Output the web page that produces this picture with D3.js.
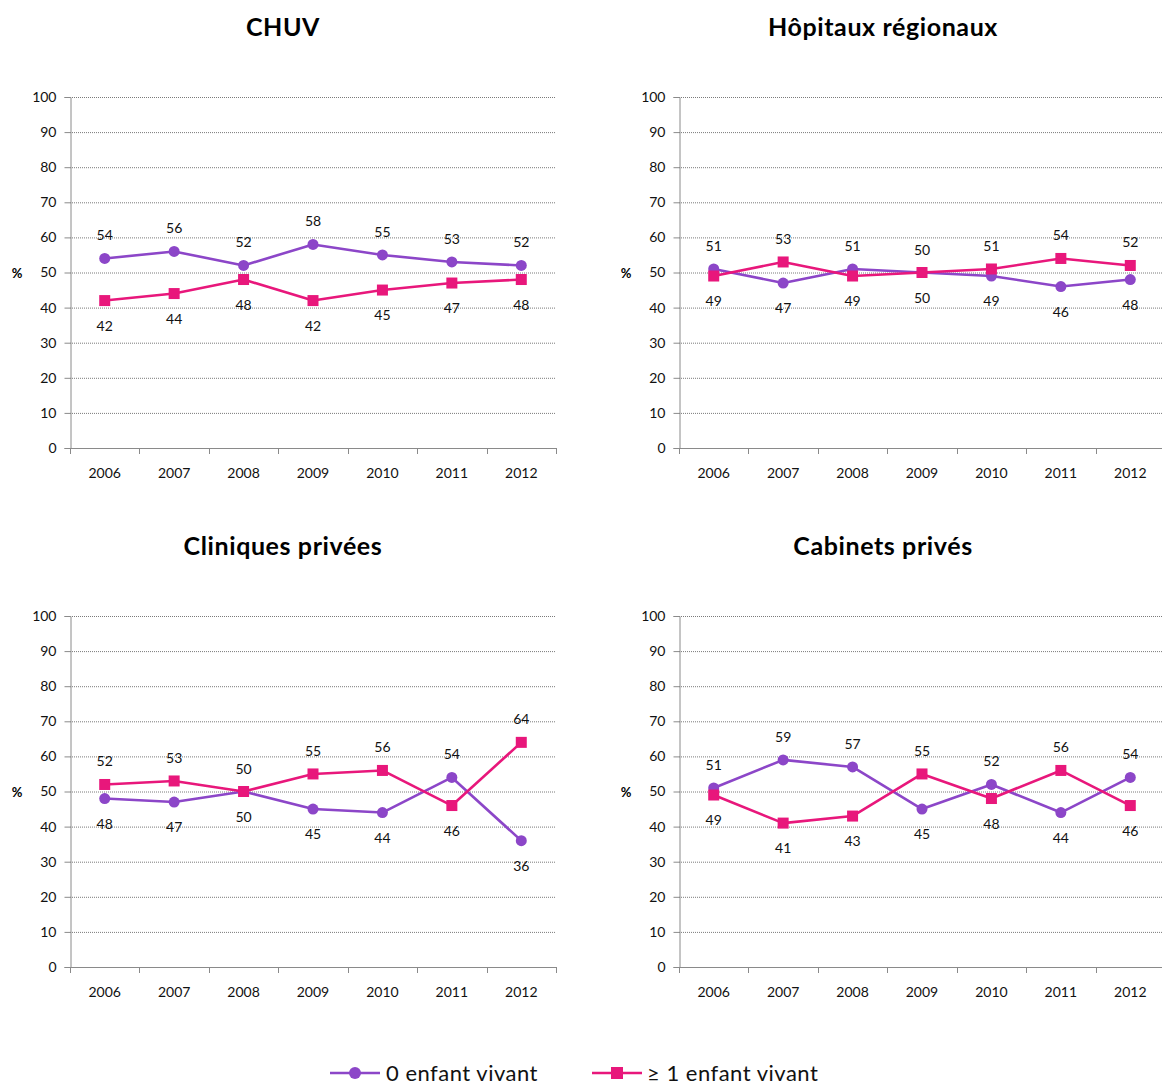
<!DOCTYPE html>
<html>
<head>
<meta charset="utf-8">
<script src="https://cdn.jsdelivr.net/npm/d3@7"></script>
<style>
  html, body { margin: 0; padding: 0; background: #fff; }
  svg { display: block; font-family: Lato, "Open Sans", sans-serif; }
</style>
</head>
<body>
<svg id="chart" width="1162" height="1086"></svg>
<script>
// Years on the x axis
const years = ["2006", "2007", "2008", "2009", "2010", "2011", "2012"];
const yTicks = [0, 10, 20, 30, 40, 50, 60, 70, 80, 90, 100];

// Panel titles
const titles = ["CHUV", "Hôpitaux régionaux", "Cliniques privées", "Cabinets privés"];

// Series names
const seriesNames = ["0 enfant vivant", "\u2265 1 enfant vivant"];

// Share (%) of women with no living child, by setting
const chuvNone      = [54, 56, 52, 58, 55, 53, 52];
const hopitauxNone  = [51, 47, 51, 50, 49, 46, 48];
const cliniquesNone = [48, 47, 50, 45, 44, 54, 36];
const cabinetsNone  = [51, 59, 57, 45, 52, 44, 54];

// Share (%) of women with at least one living child, by setting
const chuvSome      = [42, 44, 48, 42, 45, 47, 48];
const hopitauxSome  = [49, 53, 49, 50, 51, 54, 52];
const cliniquesSome = [52, 53, 50, 55, 56, 46, 64];
const cabinetsSome  = [49, 41, 43, 55, 48, 56, 46];

const noneSeries = [chuvNone, hopitauxNone, cliniquesNone, cabinetsNone];
const someSeries = [chuvSome, hopitauxSome, cliniquesSome, cabinetsSome];

const colors = ["#8c46c8", "#e8177b"];
const axisColor = "#8a8a8a";

const svg = d3.select("#chart");

// Panel origins (left edge of plot area, top of plot area) and title centres
const origins = [
  { x: 70,  y: 97,  tx: 283 },
  { x: 679, y: 97,  tx: 883 },
  { x: 70,  y: 616, tx: 283 },
  { x: 679, y: 616, tx: 883 }
];
const plotW = 486, plotH = 351;

const x = d3.scaleBand().domain(years).range([0, plotW]).padding(0);
const y = d3.scaleLinear().domain([0, 100]).range([plotH, 0]);

titles.forEach((title, p) => {
  const o = origins[p];
  const g = svg.append("g").attr("transform", `translate(${o.x},${o.y})`);

  // Title
  svg.append("text")
    .attr("x", o.tx)
    .attr("y", o.y - 61)
    .attr("text-anchor", "middle")
    .attr("font-size", 25)
    .attr("font-weight", "bold")
    .attr("letter-spacing", 0.6)
    .attr("fill", "#000")
    .text(title);

  // "%" axis title
  g.append("text")
    .attr("x", -53)
    .attr("y", y(50) + 5)
    .attr("text-anchor", "middle")
    .attr("font-size", 13)
    .attr("font-weight", "bold")
    .attr("fill", "#000")
    .text("%");

  // Dotted horizontal gridlines
  g.append("g").selectAll("line")
    .data(yTicks.filter(t => t > 0))
    .join("line")
    .attr("x1", 0).attr("x2", plotW)
    .attr("y1", d => y(d) + 0.5).attr("y2", d => y(d) + 0.5)
    .attr("stroke", "#7a7a7a")
    .attr("stroke-width", 1)
    .attr("stroke-dasharray", "1,1");

  // Y axis
  const yAxis = g.append("g")
    .attr("transform", "translate(0.5,0)")
    .call(d3.axisLeft(y).tickValues(yTicks).tickSize(6).tickPadding(8));
  yAxis.select(".domain").attr("stroke", axisColor);
  yAxis.selectAll(".tick line").attr("stroke", axisColor);
  yAxis.selectAll(".tick text")
    .attr("font-size", 14).attr("fill", "#111")
    .attr("font-family", "Lato, sans-serif");

  // X axis: baseline with ticks at category boundaries
  const edges = years.map(d => x(d)).concat([plotW]);
  g.append("line")
    .attr("x1", 0).attr("x2", plotW)
    .attr("y1", plotH + 0.5).attr("y2", plotH + 0.5)
    .attr("stroke", axisColor);
  g.append("g").selectAll("line")
    .data(edges)
    .join("line")
    .attr("x1", d => Math.round(d) + 0.5).attr("x2", d => Math.round(d) + 0.5)
    .attr("y1", plotH).attr("y2", plotH + 6)
    .attr("stroke", axisColor);
  g.append("g").selectAll("text")
    .data(years)
    .join("text")
    .attr("x", d => x(d) + x.bandwidth() / 2)
    .attr("y", plotH + 30)
    .attr("text-anchor", "middle")
    .attr("font-size", 14)
    .attr("fill", "#111")
    .text(d => d);

  const series = [noneSeries[p], someSeries[p]];
  const cx = i => x(years[i]) + x.bandwidth() / 2;

  const line = d3.line()
    .x((d, i) => cx(i))
    .y(d => y(d));

  series.forEach((vals, s) => {
    g.append("path")
      .datum(vals)
      .attr("fill", "none")
      .attr("stroke", colors[s])
      .attr("stroke-width", 2.6)
      .attr("stroke-linejoin", "round")
      .attr("d", line);

    if (s === 0) {
      g.append("g").selectAll("circle")
        .data(vals)
        .join("circle")
        .attr("cx", (d, i) => cx(i))
        .attr("cy", d => y(d))
        .attr("r", 5.5)
        .attr("fill", colors[s]);
    } else {
      g.append("g").selectAll("rect")
        .data(vals)
        .join("rect")
        .attr("x", (d, i) => cx(i) - 5.5)
        .attr("y", d => y(d) - 5.5)
        .attr("width", 11).attr("height", 11)
        .attr("fill", colors[s]);
    }
  });

  // Value labels: the higher value of each year sits above its marker,
  // the lower one below
  series.forEach((vals, s) => {
    const other = series[1 - s];
    g.append("g").selectAll("text")
      .data(vals)
      .join("text")
      .attr("x", (d, i) => cx(i))
      .attr("y", (d, i) => {
        const above = s === 0 ? d >= other[i] : d > other[i];
        return above ? y(d) - 18 : y(d) + 30;
      })
      .attr("text-anchor", "middle")
      .attr("font-size", 14)
      .attr("fill", "#111")
      .text(d => d3.format(".0f")(d));
  });
});

// Legend
const legend = svg.append("g").attr("transform", "translate(330,1073)");
const legendItems = [
  { x: 0, lx: 56 },
  { x: 262, lx: 317 }
];
seriesNames.forEach((name, s) => {
  const it = legendItems[s];
  legend.append("line")
    .attr("x1", it.x).attr("x2", it.x + 50)
    .attr("y1", 0).attr("y2", 0)
    .attr("stroke", colors[s]).attr("stroke-width", 2.6);
  if (s === 0) {
    legend.append("circle").attr("cx", it.x + 25).attr("cy", 0).attr("r", 6).attr("fill", colors[s]);
  } else {
    legend.append("rect").attr("x", it.x + 19).attr("y", -6).attr("width", 12).attr("height", 12).attr("fill", colors[s]);
  }
  legend.append("text")
    .attr("x", it.lx)
    .attr("y", 8)
    .attr("font-size", 22)
    .attr("letter-spacing", 0.5)
    .attr("fill", "#111")
    .text(name);
});
</script>
</body>
</html>
